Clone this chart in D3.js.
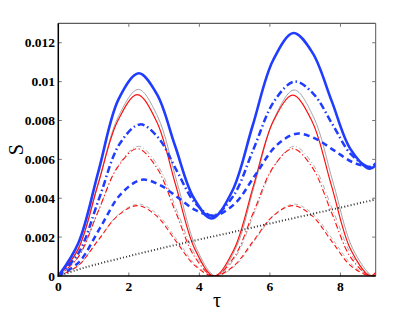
<!DOCTYPE html>
<html>
<head>
<meta charset="utf-8">
<script src="https://cdn.jsdelivr.net/npm/d3@7"></script>
<style>
  body { margin: 0; background: #fff; }
</style>
</head>
<body>
<div id="chart"></div>
<script>
// tick labels
var xTicks = [0, 2, 4, 6, 8]
var yTicks = [0, 0.002, 0.004, 0.006, 0.008, 0.01, 0.012]
var yTickLabels = ["0", "0.002", "0.004", "0.006", "0.008", "0.01", "0.012"]

// tau sample points
var redTau  = [0,0.56,1.12,1.68,2.24,2.785,3.33,3.875,4.42,4.98,5.535,6.09,6.65,7.2,7.745,8.29,8.84,9.0]
var grayTau = [0,0.57,1.135,1.7,2.27,2.82,3.37,3.92,4.47,5.025,5.58,6.135,6.69,7.24,7.795,8.35,8.9,9.0]
var blueSolidTau   = [0,0.57,1.14,1.71,2.28,2.80,3.31,3.83,4.35,4.93,5.51,6.09,6.67,7.21,7.75,8.28,8.82,9.0]
var blueDashDotTau = [0,0.58,1.16,1.74,2.32,2.835,3.35,3.865,4.38,4.96,5.54,6.12,6.70,7.24,7.775,8.31,8.85,9.0]
var blueDashedTau  = [0,0.59,1.185,1.78,2.37,2.88,3.395,3.91,4.42,5.005,5.59,6.175,6.76,7.29,7.82,8.35,8.88,9.0]
var dottedTau = [0,0.5,1,2,3,4,5,6,7,8,9]

// S values
var blueSolidS   = [0,0.0017,0.0054,0.0091,0.01043,0.00934,0.0067,0.00405,0.00296,0.00436,0.00773,0.0111,0.0125,0.01148,0.00901,0.00654,0.00552,0.0057]
var blueDashDotS = [0,0.0012,0.0040,0.0068,0.0078,0.00711,0.00545,0.00379,0.0031,0.00411,0.00655,0.00899,0.0100,0.00936,0.0078,0.00624,0.0056,0.0058]
var blueDashedS  = [0,0.00072,0.00248,0.00423,0.00495,0.00468,0.00403,0.00337,0.0031,0.00372,0.00521,0.0067,0.00732,0.00707,0.00646,0.00585,0.0056,0.00565]
var redSolidS    = [0,0.00137,0.00467,0.00796,0.00933,0.00796,0.00467,0.00137,0,0.00136,0.00465,0.00794,0.0093,0.00794,0.00465,0.00136,0,0.00018]
var redDashDotS  = [0,0.00096,0.00328,0.00559,0.00655,0.00559,0.00328,0.00096,0,0.00096,0.00328,0.00559,0.00655,0.00559,0.00328,0.00096,0,0.00013]
var redDashedS   = [0,0.00053,0.00181,0.00309,0.00362,0.00309,0.00181,0.00053,0,0.00053,0.00181,0.00309,0.00362,0.00309,0.00181,0.00053,0,0.00007]
var graySolidS   = [0,0.00141,0.0048,0.00819,0.0096,0.00819,0.0048,0.00141,0,0.0014,0.00479,0.00817,0.00957,0.00817,0.00479,0.0014,0,0.00005]
var grayDashDotS = [0,0.00098,0.00334,0.00569,0.00667,0.00569,0.00334,0.00098,0,0.00098,0.00334,0.00569,0.00667,0.00569,0.00334,0.00098,0,0.00004]
var grayDashedS  = [0,0.00054,0.00185,0.00316,0.0037,0.00316,0.00185,0.00054,0,0.00054,0.00185,0.00316,0.0037,0.00316,0.00185,0.00054,0,0.00002]
var dottedS      = [0,0.0003,0.00056,0.00102,0.00146,0.00188,0.00228,0.0027,0.00311,0.00352,0.00394]

var width = 415, height = 314
var pLeft = 58.3, pRight = 375.7, pTop = 23.3, pBottom = 276
var serif = "'Liberation Serif', 'DejaVu Serif', 'Times New Roman', serif"

var x = d3.scaleLinear().domain([0, 9]).range([pLeft, pRight])
var y = d3.scaleLinear().domain([0, 0.013]).range([pBottom, pTop])

var svg = d3.select("#chart").append("svg")
    .attr("width", width)
    .attr("height", height)

svg.append("defs").append("clipPath").attr("id", "clip")
  .append("rect")
    .attr("x", pLeft).attr("y", pTop)
    .attr("width", pRight - pLeft).attr("height", pBottom - pTop)

// series styles
var blue = "#1f3cff", red = "#ff1010", gray = "#9a9a9a"
var series = [
  {tau: grayTau, s: grayDashedS,  color: gray, w: 0.7, dash: "4 3"},
  {tau: grayTau, s: grayDashDotS, color: gray, w: 0.8, dash: "5 2.5 1 2.5"},
  {tau: grayTau, s: graySolidS,   color: gray, w: 0.9, dash: null},
  {tau: redTau,  s: redDashedS,   color: red,  w: 1.1, dash: "5 3"},
  {tau: redTau,  s: redDashDotS,  color: red,  w: 1.1, dash: "6 2.5 1.2 2.5"},
  {tau: redTau,  s: redSolidS,    color: red,  w: 1.2, dash: null},
  {tau: dottedTau, s: dottedS,    color: "#333", w: 2, dash: "1 2.2"},
  {tau: blueDashedTau,  s: blueDashedS,  color: blue, w: 2.5, dash: "6 4"},
  {tau: blueDashDotTau, s: blueDashDotS, color: blue, w: 2.5, dash: "7 3 1.5 3"},
  {tau: blueSolidTau,   s: blueSolidS,   color: blue, w: 2.6, dash: null}
]

var line = d3.line()
    .x(function(d) { return x(d[0]) })
    .y(function(d) { return y(d[1]) })
    .curve(d3.curveCatmullRom.alpha(0.5))

var g = svg.append("g").attr("clip-path", "url(#clip)")
series.forEach(function(sr) {
  var pts = sr.tau.map(function(t, i) { return [t, sr.s[i]] })
  g.append("path")
    .datum(pts)
    .attr("d", line)
    .attr("fill", "none")
    .attr("stroke", sr.color)
    .attr("stroke-width", sr.w)
    .attr("stroke-dasharray", sr.dash)
})

// box and inward ticks
var tl = 3.5
var ax = svg.append("g").attr("stroke", "#000").attr("fill", "none")
ax.append("line").attr("x1", pLeft).attr("x2", pRight).attr("y1", pTop).attr("y2", pTop).attr("stroke", "#333").attr("stroke-width", 1)
ax.append("line").attr("x1", pRight).attr("x2", pRight).attr("y1", pTop).attr("y2", pBottom).attr("stroke", "#555").attr("stroke-width", 1)
xTicks.forEach(function(t) {
  ax.append("line").attr("x1", x(t)).attr("x2", x(t)).attr("y1", pBottom).attr("y2", pBottom - tl).attr("stroke", "#777")
  ax.append("line").attr("x1", x(t)).attr("x2", x(t)).attr("y1", pTop).attr("y2", pTop + tl).attr("stroke", "#777")
})
yTicks.forEach(function(t) {
  ax.append("line").attr("x1", pLeft).attr("x2", pLeft + tl).attr("y1", y(t)).attr("y2", y(t)).attr("stroke", "#777")
  ax.append("line").attr("x1", pRight).attr("x2", pRight - tl).attr("y1", y(t)).attr("y2", y(t)).attr("stroke", "#777")
})
ax.append("line").attr("x1", pLeft).attr("x2", pLeft).attr("y1", pTop).attr("y2", pBottom + 0.7).attr("stroke-width", 1.5)
ax.append("line").attr("x1", pLeft - 0.7).attr("x2", pRight).attr("y1", pBottom).attr("y2", pBottom).attr("stroke-width", 1.5)

// tick labels
svg.append("g").selectAll("text").data(xTicks).enter().append("text")
    .attr("x", function(d) { return x(d) })
    .attr("y", 291)
    .attr("text-anchor", "middle")
    .attr("font-family", serif)
    .attr("font-size", 13.5)
    .attr("font-weight", "bold")
    .text(function(d) { return d })

svg.append("g").selectAll("text").data(yTicks).enter().append("text")
    .attr("x", 55)
    .attr("y", function(d) { return y(d) })
    .attr("dy", "0.35em")
    .attr("text-anchor", "end")
    .attr("font-family", serif)
    .attr("font-size", 13.5)
    .attr("font-weight", "bold")
    .text(function(d, i) { return yTickLabels[i] })

// axis titles
svg.append("text")
    .attr("x", (pLeft + pRight) / 2)
    .attr("y", 307)
    .attr("text-anchor", "middle")
    .attr("font-family", serif)
    .attr("font-size", 20)
    .text("τ")

svg.append("text")
    .attr("transform", "translate(23," + ((pTop + pBottom) / 2) + ")rotate(-90)")
    .attr("text-anchor", "middle")
    .attr("font-family", serif)
    .attr("font-size", 20)
    .text("S")
</script>
</body>
</html>
